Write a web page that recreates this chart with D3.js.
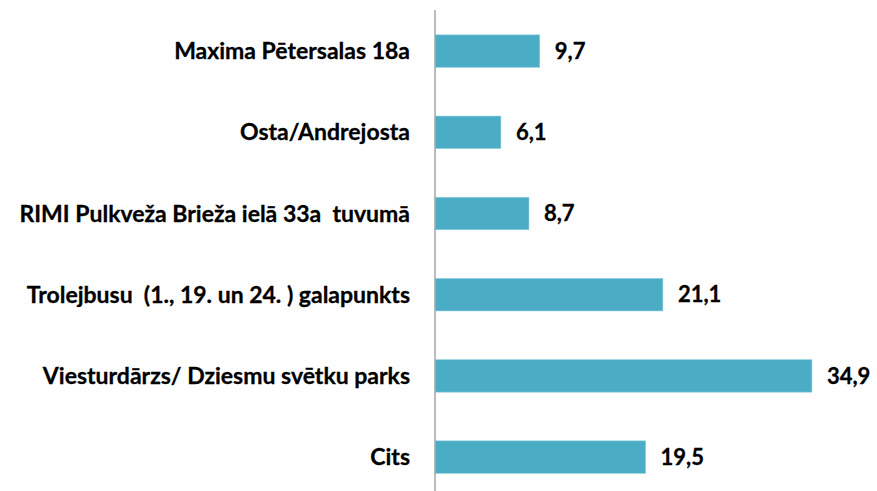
<!DOCTYPE html>
<html>
  <head>
    <style>
      body,
      html {
        margin: 0;
        padding: 0;
        background: #fff;
        overflow: hidden;
      }
      svg {
        display: block;
      }
    </style>
  </head>
  <body>
    <script src="https://cdn.jsdelivr.net/npm/d3@7"></script>
    <script>
      const width = 877;
      const height = 491;

      // categories, top to bottom
      const places = [
        "Maxima Pētersalas 18a",
        "Osta/Andrejosta",
        "RIMI Pulkveža Brieža ielā 33a  tuvumā",
        "Trolejbusu  (1., 19. un 24. ) galapunkts",
        "Viesturdārzs/ Dziesmu svētku parks",
        "Cits",
      ];
      const shares = [9.7, 6.1, 8.7, 21.1, 34.9, 19.5];

      const axisX = 435;

      const x = d3.scaleLinear().domain([0, 40]).range([axisX, axisX + 432]);
      const y = d3
        .scaleBand()
        .domain(places)
        .range([10.5, 497.7])
        .paddingInner(0.6)
        .paddingOuter(0.3);

      const svg = d3
        .select("body")
        .append("svg")
        .attr("width", width)
        .attr("height", height);

      const fmt = (v) => d3.format(".1f")(v).replace(".", ",");

      svg
        .selectAll("rect.bar")
        .data(places)
        .enter()
        .append("rect")
        .attr("class", "bar")
        .attr("x", x(0))
        .attr("y", (d) => y(d))
        .attr("width", (d, i) => x(shares[i]) - x(0))
        .attr("height", y.bandwidth())
        .attr("fill", "#4BACC6")
        .attr("stroke", "#8fd0e0")
        .attr("stroke-width", 0.6);

      // vertical axis line
      svg
        .append("line")
        .attr("x1", axisX)
        .attr("x2", axisX)
        .attr("y1", 10)
        .attr("y2", height)
        .attr("stroke", "#a6a6a6")
        .attr("stroke-width", 1.5);

      // category labels
      svg
        .selectAll("text.cat")
        .data(places)
        .enter()
        .append("text")
        .attr("class", "cat")
        .attr("x", 410)
        .attr("y", (d) => y(d) + y.bandwidth() / 2)
        .attr("dy", "0.35em")
        .attr("text-anchor", "end")
        .style("font-family", "Lato, 'Open Sans', sans-serif")
        .style("font-weight", "bold")
        .style("font-size", "23px")
        .attr("fill", "#000")
        .attr("stroke", "#000")
        .attr("stroke-width", 0.3)
        .style("white-space", "pre")
        .text((d) => d);

      // value labels
      svg
        .selectAll("text.val")
        .data(places)
        .enter()
        .append("text")
        .attr("class", "val")
        .attr("x", (d, i) => x(shares[i]) + 15)
        .attr("y", (d) => y(d) + y.bandwidth() / 2)
        .attr("dy", "0.35em")
        .style("font-family", "Lato, 'Open Sans', sans-serif")
        .style("font-weight", "bold")
        .style("font-size", "22px")
        .attr("fill", "#000")
        .attr("stroke", "#000")
        .attr("stroke-width", 0.3)
        .text((d, i) => fmt(shares[i]));
    </script>
  </body>
</html>
